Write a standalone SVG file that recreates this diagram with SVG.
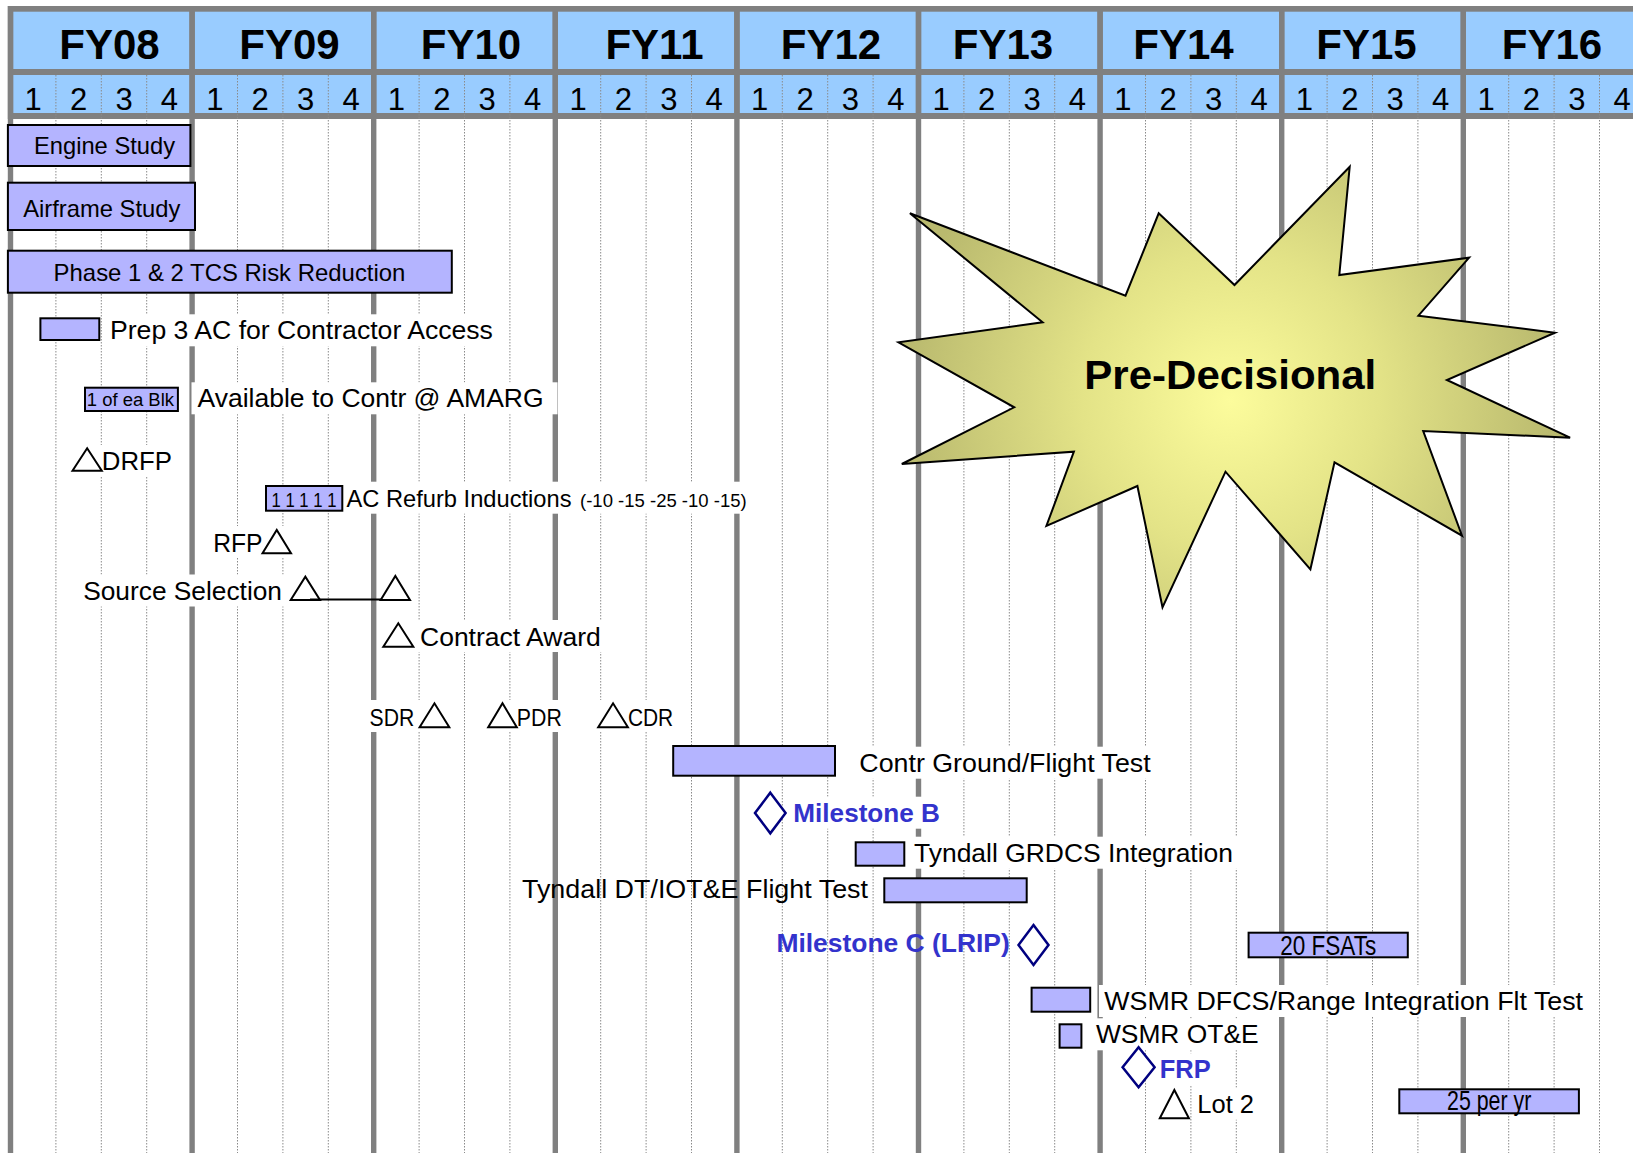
<svg xmlns="http://www.w3.org/2000/svg" width="1633" height="1153" viewBox="0 0 1633 1153">
<defs>
<style>
.t{font-family:"Liberation Sans",Arial,sans-serif;fill:#000;}
.fy{font-family:"Liberation Sans",Arial,sans-serif;font-weight:bold;font-size:42px;text-anchor:middle;fill:#000;}
.q{font-family:"Liberation Sans",Arial,sans-serif;font-size:31px;text-anchor:middle;fill:#000;}
.ms{font-family:"Liberation Sans",Arial,sans-serif;font-weight:bold;fill:#3333CC;font-size:26px;}
.bar{fill:#B4B4FF;stroke:#000;stroke-width:2;}
.tri{fill:#fff;stroke:#000;stroke-width:2;stroke-linejoin:miter;}
.dia{fill:#fff;stroke:#000080;stroke-width:2.5;}
.bg{fill:#fff;}
.thick{stroke:#808080;stroke-width:5.4;}
.dot{stroke:#8a8a8a;stroke-width:1;stroke-dasharray:1.5 1.5;}
.blue{fill:#99CCFF;}
</style>
<radialGradient id="starGrad" gradientUnits="userSpaceOnUse" cx="1230" cy="400" r="330">
<stop offset="0" stop-color="#FCFC9C"/>
<stop offset="0.45" stop-color="#E3E387"/>
<stop offset="1" stop-color="#B9B96E"/>
</radialGradient>
</defs>
<rect width="1633" height="1153" fill="#fff"/>
<g id="grid">
<rect x="7.8" y="6" width="1626" height="113" fill="#808080"/>
<rect class="blue" x="13.2" y="11.7" width="176.2" height="57.3"/>
<rect class="blue" x="194.8" y="11.7" width="176.2" height="57.3"/>
<rect class="blue" x="376.4" y="11.7" width="176.2" height="57.3"/>
<rect class="blue" x="558" y="11.7" width="176.2" height="57.3"/>
<rect class="blue" x="739.6" y="11.7" width="176.2" height="57.3"/>
<rect class="blue" x="921.2" y="11.7" width="176.2" height="57.3"/>
<rect class="blue" x="1102.8" y="11.7" width="176.2" height="57.3"/>
<rect class="blue" x="1284.4" y="11.7" width="176.2" height="57.3"/>
<rect class="blue" x="1466" y="11.7" width="176.2" height="57.3"/>
<rect class="blue" x="13.2" y="75" width="176.2" height="38"/>
<rect class="blue" x="194.8" y="75" width="176.2" height="38"/>
<rect class="blue" x="376.4" y="75" width="176.2" height="38"/>
<rect class="blue" x="558" y="75" width="176.2" height="38"/>
<rect class="blue" x="739.6" y="75" width="176.2" height="38"/>
<rect class="blue" x="921.2" y="75" width="176.2" height="38"/>
<rect class="blue" x="1102.8" y="75" width="176.2" height="38"/>
<rect class="blue" x="1284.4" y="75" width="176.2" height="38"/>
<rect class="blue" x="1466" y="75" width="176.2" height="38"/>
<g>
<line class="dot" x1="55.9" y1="75" x2="55.9" y2="1153"/><line class="dot" x1="101.3" y1="75" x2="101.3" y2="1153"/><line class="dot" x1="146.7" y1="75" x2="146.7" y2="1153"/>
<line class="dot" x1="237.5" y1="75" x2="237.5" y2="1153"/><line class="dot" x1="282.9" y1="75" x2="282.9" y2="1153"/><line class="dot" x1="328.3" y1="75" x2="328.3" y2="1153"/>
<line class="dot" x1="419.1" y1="75" x2="419.1" y2="1153"/><line class="dot" x1="464.5" y1="75" x2="464.5" y2="1153"/><line class="dot" x1="509.9" y1="75" x2="509.9" y2="1153"/>
<line class="dot" x1="600.7" y1="75" x2="600.7" y2="1153"/><line class="dot" x1="646.1" y1="75" x2="646.1" y2="1153"/><line class="dot" x1="691.5" y1="75" x2="691.5" y2="1153"/>
<line class="dot" x1="782.3" y1="75" x2="782.3" y2="1153"/><line class="dot" x1="827.7" y1="75" x2="827.7" y2="1153"/><line class="dot" x1="873.1" y1="75" x2="873.1" y2="1153"/>
<line class="dot" x1="963.9" y1="75" x2="963.9" y2="1153"/><line class="dot" x1="1009.3" y1="75" x2="1009.3" y2="1153"/><line class="dot" x1="1054.7" y1="75" x2="1054.7" y2="1153"/>
<line class="dot" x1="1145.5" y1="75" x2="1145.5" y2="1153"/><line class="dot" x1="1190.9" y1="75" x2="1190.9" y2="1153"/><line class="dot" x1="1236.3" y1="75" x2="1236.3" y2="1153"/>
<line class="dot" x1="1327.1" y1="75" x2="1327.1" y2="1153"/><line class="dot" x1="1372.5" y1="75" x2="1372.5" y2="1153"/><line class="dot" x1="1417.9" y1="75" x2="1417.9" y2="1153"/>
<line class="dot" x1="1508.7" y1="75" x2="1508.7" y2="1153"/><line class="dot" x1="1554.1" y1="75" x2="1554.1" y2="1153"/><line class="dot" x1="1599.5" y1="75" x2="1599.5" y2="1153"/>
</g>
<g>
<line class="thick" x1="10.5" y1="6" x2="10.5" y2="1153"/>
<line class="thick" x1="192.1" y1="6" x2="192.1" y2="1153"/>
<line class="thick" x1="373.7" y1="6" x2="373.7" y2="1153"/>
<line class="thick" x1="555.3" y1="6" x2="555.3" y2="1153"/>
<line class="thick" x1="736.9" y1="6" x2="736.9" y2="1153"/>
<line class="thick" x1="918.5" y1="6" x2="918.5" y2="1153"/>
<line class="thick" x1="1100.1" y1="6" x2="1100.1" y2="1153"/>
<line class="thick" x1="1281.7" y1="6" x2="1281.7" y2="1153"/>
<line class="thick" x1="1463.3" y1="6" x2="1463.3" y2="1153"/>
</g>
<g>
<text class="fy" x="109.5" y="59.3">FY08</text>
<text class="fy" x="289.5" y="59.3">FY09</text>
<text class="fy" x="471" y="59.3">FY10</text>
<text class="fy" x="654.5" y="59.3">FY11</text>
<text class="fy" x="831" y="59.3">FY12</text>
<text class="fy" x="1003" y="59.3">FY13</text>
<text class="fy" x="1183.5" y="59.3">FY14</text>
<text class="fy" x="1366.5" y="59.3">FY15</text>
<text class="fy" x="1552" y="59.3">FY16</text>
</g>
<g>
<text class="q" x="33.2" y="110">1</text><text class="q" x="78.6" y="110">2</text><text class="q" x="124" y="110">3</text><text class="q" x="169.4" y="110">4</text>
<text class="q" x="214.8" y="110">1</text><text class="q" x="260.2" y="110">2</text><text class="q" x="305.6" y="110">3</text><text class="q" x="351" y="110">4</text>
<text class="q" x="396.4" y="110">1</text><text class="q" x="441.8" y="110">2</text><text class="q" x="487.2" y="110">3</text><text class="q" x="532.6" y="110">4</text>
<text class="q" x="578" y="110">1</text><text class="q" x="623.4" y="110">2</text><text class="q" x="668.8" y="110">3</text><text class="q" x="714.2" y="110">4</text>
<text class="q" x="759.6" y="110">1</text><text class="q" x="805" y="110">2</text><text class="q" x="850.4" y="110">3</text><text class="q" x="895.8" y="110">4</text>
<text class="q" x="941.2" y="110">1</text><text class="q" x="986.6" y="110">2</text><text class="q" x="1032" y="110">3</text><text class="q" x="1077.4" y="110">4</text>
<text class="q" x="1122.8" y="110">1</text><text class="q" x="1168.2" y="110">2</text><text class="q" x="1213.6" y="110">3</text><text class="q" x="1259" y="110">4</text>
<text class="q" x="1304.4" y="110">1</text><text class="q" x="1349.8" y="110">2</text><text class="q" x="1395.2" y="110">3</text><text class="q" x="1440.6" y="110">4</text>
<text class="q" x="1486" y="110">1</text><text class="q" x="1531.4" y="110">2</text><text class="q" x="1576.8" y="110">3</text><text class="q" x="1622.2" y="110">4</text>
</g>
</g>
<g id="star">
<polygon points="909.9,213.3 1125.5,295.7 1158.7,213.3 1234.5,285 1349.7,166.7 1339.3,275 1469.1,257.7 1418.4,315.7 1554.9,332.7 1446.9,380 1570.1,437.7 1423.2,431 1462,535.7 1334.5,462.3 1310.4,569.3 1225.5,471.7 1162.5,607.3 1137.4,486 1046.4,526 1073.9,451.7 901.8,464 1014.2,407.3 898.5,342.3 1042.6,322.3" fill="url(#starGrad)" stroke="#000" stroke-width="2" stroke-linejoin="miter"/>
<text class="t" x="1084.3" y="389.3" font-size="41" font-weight="bold" textLength="292" lengthAdjust="spacingAndGlyphs">Pre-Decisional</text>
</g>
<g id="connectors">
<line x1="310" y1="599.5" x2="381" y2="599.5" stroke="#000" stroke-width="2"/>
</g>
<g id="n-engine">
<rect class="bar" x="7.9" y="125" width="182.5" height="41"/>
<text class="t" x="34" y="154.3" font-size="24" textLength="141" lengthAdjust="spacingAndGlyphs">Engine Study</text>
</g>
<g id="n-airframe">
<rect class="bar" x="7.9" y="182.7" width="187.1" height="47.3"/>
<text class="t" x="23.2" y="216.7" font-size="24" textLength="157.2" lengthAdjust="spacingAndGlyphs">Airframe Study</text>
</g>
<g id="n-phase">
<rect class="bar" x="7.9" y="250.7" width="443.9" height="42"/>
<text class="t" x="53.6" y="281" font-size="24" textLength="351.8" lengthAdjust="spacingAndGlyphs">Phase 1 &amp; 2 TCS Risk Reduction</text>
</g>
<g id="n-prep">
<rect class="bg" x="104" y="314.3" width="395" height="32"/>
<rect class="bar" x="40.4" y="318.3" width="58.9" height="21.7"/>
<text class="t" x="110" y="339.3" font-size="26" textLength="382.9" lengthAdjust="spacingAndGlyphs">Prep 3 AC for Contractor Access</text>
</g>
<g id="n-avail">
<rect class="bar" x="85" y="387.7" width="92.9" height="23.3"/>
<text class="t" x="86.8" y="406" font-size="18" textLength="87.2" lengthAdjust="spacingAndGlyphs">1 of ea Blk</text>
<rect class="bg" x="191.5" y="382.3" width="366" height="32"/>
<text class="t" x="197.5" y="407.3" font-size="26" textLength="346.1" lengthAdjust="spacingAndGlyphs">Available to Contr @ AMARG</text>
</g>
<g id="n-drfp">
<rect class="bg" x="68" y="445" width="109" height="32"/>
<polygon class="tri" points="72.5,470.7 87.15,448.3 101.8,470.7"/>
<text class="t" x="101.8" y="470" font-size="26" textLength="70.2" lengthAdjust="spacingAndGlyphs">DRFP</text>
</g>
<g id="n-refurb">
<rect class="bg" x="344" y="481.7" width="408" height="32"/>
<rect class="bar" x="266" y="486" width="76.3" height="24.7"/>
<text class="t" x="271.5" y="506.5" font-size="21" textLength="65" lengthAdjust="spacingAndGlyphs">1 1 1 1 1</text>
<text class="t" x="346.5" y="506.7" font-size="24" textLength="225" lengthAdjust="spacingAndGlyphs">AC Refurb Inductions</text>
<text class="t" x="580" y="506.7" font-size="19" textLength="166.7" lengthAdjust="spacingAndGlyphs">(-10 -15 -25 -10 -15)</text>
</g>
<g id="n-rfp">
<rect class="bg" x="208" y="526" width="88" height="32"/>
<text class="t" x="213.2" y="551.7" font-size="25" textLength="49.3" lengthAdjust="spacingAndGlyphs">RFP</text>
<polygon class="tri" points="262.5,553.3 276.75,530 291,553.3"/>
</g>
<g id="n-srcsel">
<rect class="bg" x="78" y="574.5" width="210" height="32"/>
<text class="t" x="83.2" y="599.5" font-size="26" textLength="198.8" lengthAdjust="spacingAndGlyphs">Source Selection</text>
<polygon class="tri" points="290.7,600 305.35,576.7 320,600" style="fill:none"/>
</g>
<g id="n-srcsel-end">
<polygon class="tri" points="380.7,600 395.35,576 410,600" style="fill:none"/>
</g>
<g id="n-award">
<rect class="bg" x="378" y="620" width="228" height="32"/>
<polygon class="tri" points="383.3,646.7 398.3,623.3 413.3,646.7"/>
<text class="t" x="420" y="646" font-size="26" textLength="180.7" lengthAdjust="spacingAndGlyphs">Contract Award</text>
</g>
<g id="n-sdr">
<rect class="bg" x="364" y="700" width="90" height="32"/>
<text class="t" x="369.6" y="725.7" font-size="24" textLength="44.7" lengthAdjust="spacingAndGlyphs">SDR</text>
<polygon class="tri" points="419.6,727.3 434.45,703.3 449.3,727.3"/>
</g>
<g id="n-pdr">
<rect class="bg" x="484" y="700" width="82" height="32"/>
<polygon class="tri" points="488.2,727.3 502.5,703.3 516.8,727.3"/>
<text class="t" x="516.8" y="725.7" font-size="24" textLength="45" lengthAdjust="spacingAndGlyphs">PDR</text>
</g>
<g id="n-cdr">
<rect class="bg" x="594" y="700" width="84" height="32"/>
<polygon class="tri" points="598.2,727.3 613.05,703.3 627.9,727.3"/>
<text class="t" x="627.9" y="725.7" font-size="24" textLength="45.3" lengthAdjust="spacingAndGlyphs">CDR</text>
</g>
<g id="n-cgft">
<rect class="bar" x="673.2" y="746" width="161.8" height="29.7"/>
<rect class="bg" x="854" y="746.7" width="302" height="32"/>
<text class="t" x="859.3" y="771.7" font-size="26" textLength="291.4" lengthAdjust="spacingAndGlyphs">Contr Ground/Flight Test</text>
</g>
<g id="n-msb">
<polygon class="dia" points="770.3,792.7 785.6,813 770.3,833.3 755,813"/>
<rect class="bg" x="788" y="796.7" width="157" height="32"/>
<text class="ms" x="793.3" y="821.7" textLength="146.7" lengthAdjust="spacingAndGlyphs">Milestone B</text>
</g>
<g id="n-grdcs">
<rect class="bar" x="855.7" y="842.3" width="48.6" height="23.4"/>
<rect class="bg" x="909" y="836.7" width="329" height="32"/>
<text class="t" x="914" y="861.7" font-size="26" textLength="319" lengthAdjust="spacingAndGlyphs">Tyndall GRDCS Integration</text>
</g>
<g id="n-tdt">
<text class="t" x="522" y="897.5" font-size="26" textLength="346" lengthAdjust="spacingAndGlyphs">Tyndall DT/IOT&amp;E Flight Test</text>
<rect class="bar" x="884.3" y="878.3" width="142.4" height="24"/>
</g>
<g id="n-msc">
<text class="ms" x="776.4" y="951.7" textLength="233.4" lengthAdjust="spacingAndGlyphs">Milestone C (LRIP)</text>
<polygon class="dia" points="1033.5,925 1048.5,945 1033.5,965 1018.5,945"/>
</g>
<g id="n-fsat">
<rect class="bar" x="1248.6" y="932.7" width="159.2" height="24.6"/>
<text class="t" x="1280.3" y="955" font-size="27" textLength="95.9" lengthAdjust="spacingAndGlyphs">20 FSATs</text>
</g>
<g id="n-dfcs">
<rect class="bar" x="1031.6" y="987.7" width="58.6" height="24"/>
<rect class="bg" x="1099" y="985" width="490" height="32"/>
<text class="t" x="1104.3" y="1010" font-size="26" textLength="478.7" lengthAdjust="spacingAndGlyphs">WSMR DFCS/Range Integration Flt Test</text>
</g>
<g id="n-ote">
<rect class="bar" x="1059.6" y="1024.3" width="21.8" height="23.4"/>
<rect class="bg" x="1091" y="1018.3" width="173" height="32"/>
<text class="t" x="1095.9" y="1043.3" font-size="26" textLength="162.7" lengthAdjust="spacingAndGlyphs">WSMR OT&amp;E</text>
</g>
<g id="n-frp">
<polygon class="dia" points="1138.6,1047.3 1154.6,1067.3 1138.6,1087.3 1122.6,1067.3"/>
<rect class="bg" x="1156" y="1053.3" width="60" height="32"/>
<text class="ms" x="1159.8" y="1078.3" textLength="50.9" lengthAdjust="spacingAndGlyphs">FRP</text>
</g>
<g id="n-lot2">
<rect class="bg" x="1192" y="1087.7" width="67" height="32"/>
<polygon class="tri" points="1159.8,1118.3 1174.35,1090 1188.9,1118.3"/>
<text class="t" x="1197.3" y="1112.7" font-size="26" textLength="56.7" lengthAdjust="spacingAndGlyphs">Lot 2</text>
</g>
<g id="n-25yr">
<rect class="bar" x="1399.3" y="1089.3" width="179.6" height="24"/>
<text class="t" x="1447" y="1110" font-size="27" textLength="84.3" lengthAdjust="spacingAndGlyphs">25 per yr</text>
</g>
</svg>
